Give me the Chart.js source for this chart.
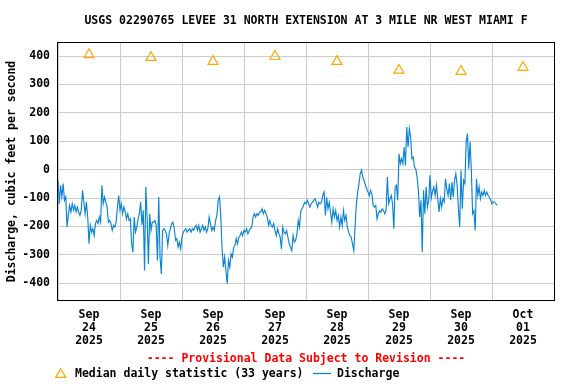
<!DOCTYPE html>
<html>
<head>
<meta charset="utf-8">
<script src="https://cdn.jsdelivr.net/npm/chart.js@4.4.1/dist/chart.umd.min.js"></script>
<style>
  html, body { margin: 0; padding: 0; background: #fff; }
  #wrap { width: 576px; height: 384px; position: relative; }
</style>
</head>
<body>
<div id="wrap"><canvas id="flowChart" width="576" height="384"></canvas></div>
<script>
// DATA
// discharge readings, one every 30 minutes from Sep 24 2025 00:00
const stepHours = 0.5;
const discharge = [
  -38, -120, -55, -96, -49, -108, -96, -202, -161, -126,
  -149, -120, -143, -126, -149, -132, -149, -161, -143, -73,
  -114, -155, -114, -167, -261, -196, -220, -208, -232, -190,
  -179, -190, -167, -185, -55, -120, -96, -114, -132, -185,
  -179, -190, -214, -196, -202, -185, -132, -91, -143, -120,
  -155, -132, -149, -173, -155, -179, -173, -261, -291, -167,
  -220, -202, -173, -155, -114, -196, -143, -355, -61, -167,
  -332, -155, -214, -185, -185, -179, -196, -320, -96, -308,
  -367, -214, -208, -214, -226, -267, -226, -208, -190, -185,
  -208, -249, -243, -273, -255, -279, -238, -220, -214, -208,
  -220, -214, -208, -220, -208, -214, -202, -196, -214, -196,
  -220, -208, -196, -214, -202, -220, -208, -167, -190, -214,
  -202, -214, -179, -161, -108, -96, -161, -273, -343, -308,
  -355, -402, -320, -343, -296, -308, -273, -267, -243, -261,
  -238, -232, -220, -232, -214, -220, -208, -226, -214, -208,
  -202, -167, -155, -167, -155, -161, -149, -149, -138, -155,
  -143, -155, -167, -196, -179, -196, -202, -190, -214, -232,
  -208, -226, -238, -279, -202, -220, -226, -214, -238, -261,
  -273, -285, -232, -255, -249, -226, -179, -202, -144, -138,
  -126, -115, -120, -108, -120, -132, -120, -115, -108, -103,
  -115, -132, -115, -120, -115, -91, -79, -161, -97, -138,
  -115, -150, -185, -138, -167, -144, -179, -161, -202, -167,
  -197, -144, -179, -161, -202, -220, -232, -238, -261, -285,
  -202, -120, -80, -49, -14, -2, -26, -38, -55, -67,
  -79, -91, -73, -85, -126, -132, -126, -173, -155, -144,
  -150, -138, -144, -155, -144, -26, -120, -103, -91, -120,
  -208, -61, -55, -108, 56, 21, 39, 21, 80, 15,
  150, 80, 145, 115, 39, 44, 9, 3, -26, -73,
  -167, -108, -291, -73, -155, -61, -132, -108, -20, -100,
  -75, -61, -91, -55, -102, -149, -102, -132, -102, -114,
  -32, -67, -91, -49, -108, -44, -97, -38, -14, -55,
  -138, -202, -2, -138, -38, -49, 98, 127, 3, 98,
  -2, -155, -144, -214, -32, -91, -61, -102, -79, -91,
  -73, -91, -79, -91, -97, -108, -120, -114, -114, -120,
  -126
];

// median daily statistic, plotted at noon of each day (hours from Sep 24 00:00)
const medianHours = [12, 36, 60, 84, 108, 132, 156, 180];
const medianValues = [405, 395, 381, 399, 381, 350, 346, 360];

// day labels
const dayMonths = ['Sep', 'Sep', 'Sep', 'Sep', 'Sep', 'Sep', 'Sep', 'Oct'];
const dayNumbers = ['24', '25', '26', '27', '28', '29', '30', '01'];
const dayYears = ['2025', '2025', '2025', '2025', '2025', '2025', '2025', '2025'];

const yTicks = [-400, -300, -200, -100, 0, 100, 200, 300, 400];

const titleText = 'USGS 02290765 LEVEE 31 NORTH EXTENSION AT 3 MILE NR WEST MIAMI F';
const noteText = '---- Provisional Data Subject to Revision ----';
const yTitle = 'Discharge, cubic feet per second';

const blue = '#0a84d2';
const orange = '#ffa500';
const gridGray = '#cccccc';
const monoFont = '"DejaVu Sans Mono", "Liberation Mono", monospace';

// TEXT + FRAME PLUGIN
const decorations = {
    id: 'decorations',
    afterDraw(chart) {
        const ctx = chart.ctx;
        const area = chart.chartArea;
        const mid = (area.left + area.right) / 2;
        ctx.save();

        // plot frame
        ctx.strokeStyle = '#000';
        ctx.lineWidth = 1;
        ctx.strokeRect(area.left - 0.5, area.top - 0.5, area.right - area.left + 1, area.bottom - area.top + 1);

        ctx.font = 'bold 11.5px ' + monoFont;
        ctx.textBaseline = 'middle';

        // title
        ctx.fillStyle = '#000';
        ctx.textAlign = 'center';
        ctx.fillText(titleText, mid, 21);

        // provisional note
        ctx.fillStyle = '#ff0000';
        ctx.fillText(noteText, mid, 359.5);

        // legend: open triangle + blue line
        ctx.textAlign = 'left';
        ctx.strokeStyle = orange;
        ctx.fillStyle = 'rgba(0,0,0,0)';
        ctx.lineWidth = 1.2;
        Chart.helpers.drawPoint(ctx, {
            pointStyle: 'triangle', radius: 5.8, borderWidth: 1.2, rotation: 0
        }, 60.7, 374.5);
        ctx.fillStyle = '#000';
        ctx.fillText('Median daily statistic (33 years)', 75, 374);
        ctx.beginPath();
        ctx.strokeStyle = blue;
        ctx.lineWidth = 1.3;
        ctx.moveTo(313, 373.5);
        ctx.lineTo(331, 373.5);
        ctx.stroke();
        ctx.fillText('Discharge', 337, 374);
        ctx.restore();
    }
};

// CHART DRAWING
function drawChart() {
    const canvas = document.getElementById('flowChart');
    const ctx = canvas.getContext('2d');

    const flowPoints = discharge.map((v, i) => ({ x: i * stepHours, y: v }));
    const medianPoints = medianValues.map((v, i) => ({ x: medianHours[i], y: v }));
    const tickFont = { family: monoFont, weight: 'bold', size: 11.5, lineHeight: 13 / 11.5 };

    new Chart(ctx, {
        type: 'line',
        data: {
            datasets: [
                {
                    label: 'Discharge',
                    data: flowPoints,
                    borderColor: blue,
                    borderWidth: 1.15,
                    pointRadius: 0,
                    tension: 0,
                    order: 2
                },
                {
                    label: 'Median daily statistic (33 years)',
                    data: medianPoints,
                    showLine: false,
                    pointStyle: 'triangle',
                    pointRadius: 5.8,
                    borderColor: orange,
                    backgroundColor: 'rgba(0,0,0,0)',
                    borderWidth: 1.2,
                    order: 1
                }
            ]
        },
        options: {
            responsive: false,
            animation: false,
            layout: { padding: { left: 0, top: 43, right: 22, bottom: 0 } },
            plugins: {
                legend: { display: false },
                tooltip: { enabled: false },
                title: { display: false }
            },
            scales: {
                x: {
                    type: 'linear',
                    min: 0,
                    max: 192,
                    afterBuildTicks(axis) {
                        const t = [];
                        for (let h = 0; h <= 192; h += 12) t.push({ value: h });
                        axis.ticks = t;
                    },
                    afterFit(scale) { scale.height = 84; },
                    grid: {
                        drawTicks: false,
                        color: c => (c.tick && c.tick.value % 24 === 0) ? gridGray : 'rgba(0,0,0,0)'
                    },
                    border: { display: false },
                    ticks: {
                        autoSkip: false,
                        maxRotation: 0,
                        padding: 9,
                        color: '#000',
                        font: tickFont,
                        callback: v => {
                            if (v % 24 !== 12) return '';
                            const i = (v - 12) / 24;
                            return [dayMonths[i], dayNumbers[i], dayYears[i]];
                        }
                    }
                },
                y: {
                    min: -459,
                    max: 446,
                    afterBuildTicks(axis) {
                        axis.ticks = yTicks.map(v => ({ value: v }));
                    },
                    afterFit(scale) { scale.width = 58; },
                    grid: { drawTicks: false, color: gridGray },
                    border: { display: false },
                    ticks: { padding: 8, color: '#000', font: tickFont },
                    title: {
                        display: true,
                        text: yTitle,
                        color: '#000',
                        font: { family: monoFont, weight: 'bold', size: 11.5 },
                        padding: { top: 5, bottom: 0 }
                    }
                }
            }
        },
        plugins: [decorations]
    });
}

document.addEventListener('DOMContentLoaded', drawChart);
</script>
</body>
</html>
